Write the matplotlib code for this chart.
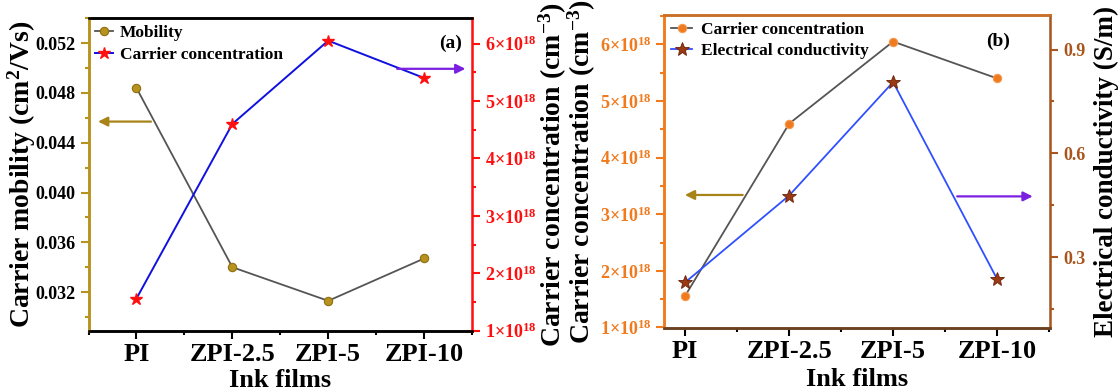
import numpy as np
import matplotlib
matplotlib.use("Agg")
import matplotlib.pyplot as plt
from matplotlib.ticker import FuncFormatter, MultipleLocator

plt.rcParams['font.family'] = ['Liberation Serif', 'DejaVu Serif']
plt.rcParams['font.weight'] = 'bold'
plt.rcParams['axes.labelweight'] = 'bold'
plt.rcParams['mathtext.fontset'] = 'custom'
plt.rcParams['mathtext.rm'] = 'Liberation Serif:bold'
plt.rcParams['mathtext.it'] = 'Liberation Serif:bold'
plt.rcParams['mathtext.bf'] = 'Liberation Serif:bold'
plt.rcParams['mathtext.default'] = 'rm'

# data
films = ['PI', 'ZPI-2.5', 'ZPI-5', 'ZPI-10']
mobility = [0.0484, 0.0340, 0.0313, 0.0347]          # cm2/Vs
carrier_conc = [1.56e18, 4.60e18, 6.05e18, 5.40e18]  # cm-3
conductivity = [0.227, 0.478, 0.806, 0.237]          # S/m

# arrow anchors (x in category index, y in the axis units they point to)
arrow_a_left = [(0.18, 0.0457), (-0.43, 0.0457)]
arrow_a_right = [(2.69, 5.56e18), (3.46, 5.56e18)]
arrow_b_left = [(0.58, 3.34e18), (-0.03, 3.34e18)]
arrow_b_right = [(2.59, 0.4755), (3.37, 0.4755)]

GOLD = '#B8921E'
RED = '#FF1010'
ORANGE = '#F07A1E'
BROWN = '#A8561E'
PURPLE = '#7B1FE0'
GREY = '#555555'


def sci_fmt(v, pos):
    return r'%d$\times$10$^{18}$' % round(v / 1e18)


def style_axis(ax, color, side):
    ax.tick_params(axis='y', which='both', direction='out', colors=color,
                   labelsize=13, width=1.5)
    ax.tick_params(axis='y', which='major', length=6)
    ax.tick_params(axis='y', which='minor', length=3)
    ax.spines[side].set_color(color)
    ax.spines[side].set_linewidth(1.8)


def style_x(ax):
    ax.tick_params(axis='x', which='both', direction='out', labelsize=19,
                   width=1.5, color='black', pad=3)
    ax.tick_params(axis='x', which='major', length=6)
    ax.tick_params(axis='x', which='minor', length=3)


x = np.arange(len(films))
fig = plt.figure(figsize=(11.18, 3.92), dpi=100)

# ---------- panel (a) ----------
ax1 = fig.add_axes([0.0792, 0.1564, 0.3430, 0.797])
ax2 = ax1.twinx()

l1, = ax1.plot(x, mobility, '-', color=GREY, lw=1.3, marker='o', ms=6,
               mfc=GOLD, mec='#8F7010', mew=0.8, label='Mobility')
l2, = ax2.plot(x, carrier_conc, '-', color='#1010E0', lw=1.4, marker='*',
               ms=9, mfc=RED, mec=RED, label='Carrier concentration')

ax1.set_xlim(-0.5, 3.5)
ax1.set_ylim(0.0289, 0.0540)
ax2.set_ylim(1e18, 6.44e18)
ax1.set_xticks(x)
ax1.set_xticklabels(films)
ax1.xaxis.set_minor_locator(MultipleLocator(0.5))
ax1.yaxis.set_major_locator(MultipleLocator(0.004))
ax1.yaxis.set_minor_locator(MultipleLocator(0.002))
ax1.yaxis.set_major_formatter(FuncFormatter(lambda v, p: '%.3f' % v))
ax2.yaxis.set_major_locator(MultipleLocator(1e18))
ax2.yaxis.set_minor_locator(MultipleLocator(0.5e18))
ax2.yaxis.set_major_formatter(FuncFormatter(sci_fmt))
ax2.yaxis.get_offset_text().set_visible(False)

style_axis(ax1, GOLD, 'left')
ax1.tick_params(axis='y', labelcolor='black')
style_axis(ax2, RED, 'right')
style_x(ax1)
for s in ['top', 'bottom']:
    ax1.spines[s].set_linewidth(1.8)
    ax2.spines[s].set_linewidth(1.8)
ax2.spines['left'].set_color(GOLD)
ax2.spines['left'].set_linewidth(1.8)

ax1.set_xlabel('Ink films', fontsize=19)
ax1.xaxis.set_label_coords(0.5, -0.122)
ax1.set_ylabel(r'Carrier mobility (cm$^2$/Vs)', fontsize=20)
ax1.yaxis.set_label_coords(-0.133, 0.5)
ax2.set_ylabel(r'Carrier concentration (cm$^{-3}$)', fontsize=20)
ax2.yaxis.set_label_coords(1.168, 0.5)

ax1.legend(handles=[l1, l2], loc='upper left', frameon=False, fontsize=12.5,
           handlelength=1.0, handletextpad=0.4, borderaxespad=0.1,
           labelspacing=0.3, borderpad=0.3)
ax1.text(0.943, 0.921, '(a)', transform=ax1.transAxes, fontsize=14,
         ha='center', va='center')

ax1.annotate('', xy=arrow_a_left[1], xytext=arrow_a_left[0],
             arrowprops=dict(arrowstyle='-|>', color='#A88418', lw=1.6,
                             mutation_scale=14))
ax2.annotate('', xy=arrow_a_right[1], xytext=arrow_a_right[0],
             arrowprops=dict(arrowstyle='-|>', color=PURPLE, lw=1.6,
                             mutation_scale=14))

# ---------- panel (b) ----------
bx1 = fig.add_axes([0.5943, 0.1633, 0.3449, 0.7985])
bx2 = bx1.twinx()

m1, = bx1.plot(x, carrier_conc, '-', color=GREY, lw=1.3, marker='o', ms=6,
               mfc=ORANGE, mec='#F59A50', mew=0.8, label='Carrier concentration')
m2, = bx2.plot(x, conductivity, '-', color='#3050FF', lw=1.3, marker='*',
               ms=10, mfc='#9A3A12', mec='#6A2008', mew=0.6,
               label='Electrical conductivity')

bx1.set_xlim(-0.2, 3.51)
bx1.set_ylim(0.99e18, 6.52e18)
bx2.set_ylim(0.095, 1.0)
bx1.set_xticks(x)
bx1.set_xticklabels(films)
bx1.xaxis.set_minor_locator(MultipleLocator(0.5))
bx1.yaxis.set_major_locator(MultipleLocator(1e18))
bx1.yaxis.set_minor_locator(MultipleLocator(0.5e18))
bx1.yaxis.set_major_formatter(FuncFormatter(sci_fmt))
bx1.yaxis.get_offset_text().set_visible(False)
bx2.yaxis.set_major_locator(MultipleLocator(0.3))
bx2.yaxis.set_minor_locator(MultipleLocator(0.15))
bx2.yaxis.set_major_formatter(FuncFormatter(lambda v, p: '%.1f' % v))

style_axis(bx1, ORANGE, 'left')
style_axis(bx2, BROWN, 'right')
bx2.spines['left'].set_color(ORANGE)
bx2.spines['left'].set_linewidth(1.8)
for ax in (bx1, bx2):
    ax.spines['top'].set_color('#C8702A')
    ax.spines['top'].set_linewidth(1.8)
    ax.spines['bottom'].set_color('#6A4020')
    ax.spines['bottom'].set_linewidth(1.8)
style_x(bx1)

bx1.set_xlabel('Ink films', fontsize=19)
bx1.xaxis.set_label_coords(0.5, -0.128)
bx1.set_ylabel(r'Carrier concentration (cm$^{-3}$)', fontsize=20)
bx1.yaxis.set_label_coords(-0.172, 0.5)
bx2.set_ylabel('Electrical conductivity (S/m)', fontsize=19.5)
bx2.yaxis.set_label_coords(1.113, 0.5)

bx1.legend(handles=[m1, m2], loc='upper left', frameon=False, fontsize=12.5,
           handlelength=1.2, handletextpad=0.5, borderaxespad=0.1,
           labelspacing=0.3, borderpad=0.3)
bx1.text(0.865, 0.916, '(b)', transform=bx1.transAxes, fontsize=14,
         ha='center', va='center')

bx1.annotate('', xy=arrow_b_left[1], xytext=arrow_b_left[0],
             arrowprops=dict(arrowstyle='-|>', color='#A88418', lw=1.6,
                             mutation_scale=14))
bx2.annotate('', xy=arrow_b_right[1], xytext=arrow_b_right[0],
             arrowprops=dict(arrowstyle='-|>', color=PURPLE, lw=1.6,
                             mutation_scale=14))

fig.savefig('out.png', dpi=100)
